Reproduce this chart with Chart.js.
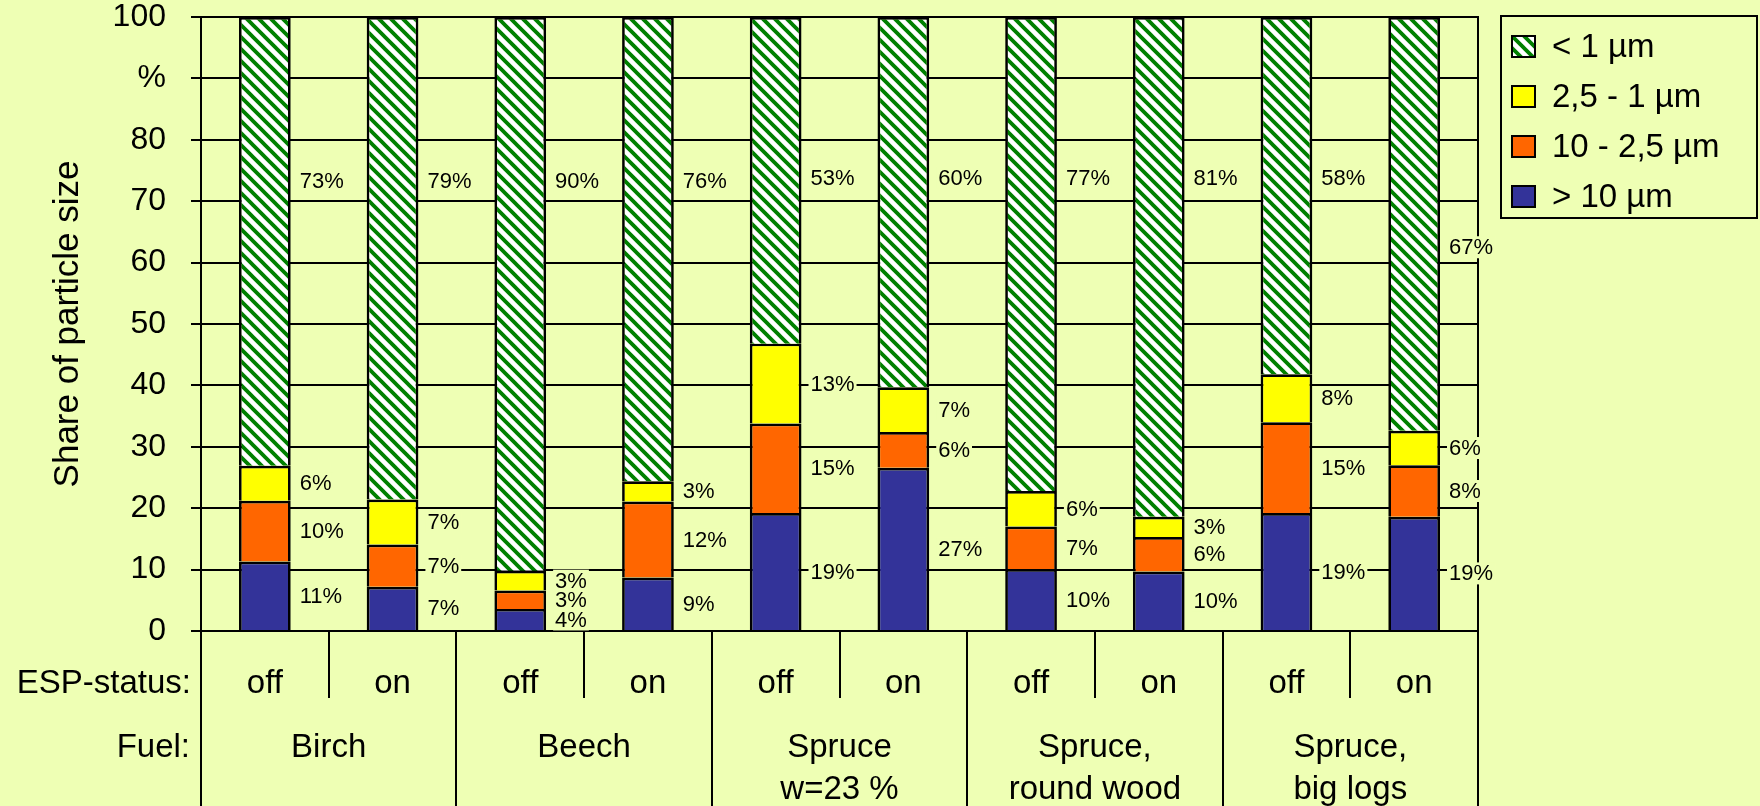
<!DOCTYPE html>
<html>
<head>
<meta charset="utf-8">
<title>Share of particle size</title>
<script src="https://cdn.jsdelivr.net/npm/chart.js@4.4.1/dist/chart.umd.min.js"></script>
<style>
	html, body { margin: 0; padding: 0; background: #eeffb4; }
	#sizeChart { display: block; background: #eeffb4; }
</style>
</head>
<body>
<canvas id="sizeChart" width="1760" height="806"></canvas>
<script>
// categories
var espStatus = ['off', 'on', 'off', 'on', 'off', 'on', 'off', 'on', 'off', 'on'];
var fuels = [['Birch'], ['Beech'], ['Spruce', 'w=23 %'], ['Spruce,', 'round wood'], ['Spruce,', 'big logs']];
var rowHeads = ['ESP-status:', 'Fuel:'];
var yTickLabels = ['0', '10', '20', '30', '40', '50', '60', '70', '80', '%', '100'];

// series (share in %)
var seriesNames = ['> 10 µm', '10 - 2,5 µm', '2,5 - 1 µm', '< 1 µm'];
var over10 = [11.3, 7.2, 3.6, 8.7, 19.2, 26.6, 10.1, 9.7, 19.2, 18.6];
var from10to25 = [9.9, 6.9, 3.0, 12.4, 14.6, 5.8, 6.9, 5.6, 14.8, 8.4];
var from25to1 = [5.7, 7.3, 3.2, 3.3, 13.0, 7.3, 5.8, 3.3, 7.8, 5.6];
var under1 = [73.1, 78.6, 90.2, 75.6, 53.2, 60.3, 77.2, 81.4, 58.2, 67.4];

// where the label of the top segment sits (axis value)
var topLabelAt = [73.3, 73.3, 73.3, 73.3, 73.8, 73.8, 73.8, 73.8, 73.8, 62.5];

var BG = '#eeffb4';
var FONT = '"Liberation Sans", Arial, sans-serif';

var canvas = document.getElementById('sizeChart');
var ctx = canvas.getContext('2d');

function stripes() {
	var s = 12;
	var c = document.createElement('canvas');
	c.width = s; c.height = s;
	var g = c.getContext('2d');
	g.fillStyle = '#ffffff';
	g.fillRect(0, 0, s, s);
	g.strokeStyle = '#008000';
	g.lineWidth = 3.8;
	g.beginPath();
	for (var k = -s; k <= s; k += s) {
		g.moveTo(k - 2, -2);
		g.lineTo(k + s + 2, s + 2);
	}
	g.stroke();
	return ctx.createPattern(c, 'repeat');
}
var greenStripes = stripes();

var fills = ['#333399', '#ff6600', '#ffff00', greenStripes];

function line(c, x1, y1, x2, y2) {
	c.beginPath();
	c.moveTo(x1, y1);
	c.lineTo(x2, y2);
	c.stroke();
}

// right frame + labels next to the bars
var barLabels = {
	id: 'barLabels',
	beforeDatasetsDraw: function(chart) {
		var c = chart.ctx, a = chart.chartArea;
		c.save();
		c.strokeStyle = '#000';
		c.lineWidth = 2;
		line(c, a.right, a.top - 1, a.right, a.bottom);
		c.restore();
	},
	afterDatasetsDraw: function(chart) {
		var c = chart.ctx, a = chart.chartArea, ys = chart.scales.y;
		c.save();
		c.strokeStyle = '#000';
		c.lineWidth = 2;
		line(c, a.left - 10, a.bottom, a.right + 1, a.bottom);
		c.font = '22px ' + FONT;
		c.textAlign = 'left';
		c.textBaseline = 'middle';
		chart.data.datasets.forEach(function(ds, d) {
			var meta = chart.getDatasetMeta(d);
			meta.data.forEach(function(bar, i) {
				var txt = Math.round(ds.data[i]) + '%';
				var x = bar.x + bar.width / 2 + 9;
				var y = (d === chart.data.datasets.length - 1) ? ys.getPixelForValue(topLabelAt[i]) : (bar.y + bar.base) / 2;
				var w = c.measureText(txt).width;
				c.fillStyle = BG;
				c.fillRect(x - 2, y - 11, w + 4, 22);
				c.fillStyle = '#000';
				c.fillText(txt, x, y + 1);
			});
		});
		c.restore();
	}
};

// ESP-status / Fuel rows under the axis and the framed legend
var tableRows = {
	id: 'tableRows',
	afterDraw: function(chart) {
		var c = chart.ctx, a = chart.chartArea;
		var n = espStatus.length, step = (a.right - a.left) / n;
		c.save();
		c.strokeStyle = '#000';
		c.lineWidth = 2;
		for (var i = 0; i <= n; i++) {
			var bx = Math.round(a.left + i * step);
			line(c, bx, a.bottom, bx, i % 2 === 0 ? chart.height : a.bottom + 67);
		}
		c.fillStyle = '#000';
		c.font = '33px ' + FONT;
		c.textBaseline = 'middle';
		c.textAlign = 'right';
		c.fillText(rowHeads[0], a.left - 10, a.bottom + 53);
		c.fillText(rowHeads[1], a.left - 11, a.bottom + 117);
		c.textAlign = 'center';
		fuels.forEach(function(lines, g) {
			var cx = a.left + (2 * g + 1) * step;
			lines.forEach(function(t, k) {
				c.fillText(t, cx, a.bottom + 117 + k * 42);
			});
		});

		// legend
		var lx = a.right + 23, ly = 16, lw = 256, lh = 202;
		c.strokeRect(lx, ly, lw, lh);
		c.textAlign = 'left';
		for (var k = 0; k < seriesNames.length; k++) {
			var d = seriesNames.length - 1 - k;
			var cy = ly + 31 + k * 50;
			c.fillStyle = fills[d];
			c.fillRect(lx + 11, cy - 11, 23, 21);
			c.strokeRect(lx + 11, cy - 11, 23, 21);
			c.fillStyle = '#000';
			c.fillText(seriesNames[d], lx + 51, cy + 1);
		}
		c.restore();
	}
};

var seriesData = [over10, from10to25, from25to1, under1];

new Chart(ctx, {
	type: 'bar',
	data: {
		labels: espStatus,
		datasets: seriesData.map(function(values, d) {
			return {
				label: seriesNames[d],
				data: values,
				backgroundColor: fills[d],
				borderColor: '#000',
				borderWidth: 2.7,
				borderSkipped: 'start',
				barPercentage: 0.405,
				categoryPercentage: 1.0
			};
		})
	},
	options: {
		responsive: false,
		animation: false,
		layout: { padding: { top: 17, right: 282, left: 0, bottom: 0 } },
		plugins: {
			legend: { display: false },
			tooltip: { enabled: false }
		},
		scales: {
			x: {
				stacked: true,
				grid: { display: false, drawTicks: false },
				border: { display: false },
				ticks: {
					color: '#000',
					font: { family: FONT, size: 33 },
					padding: 33,
					maxRotation: 0,
					minRotation: 0,
					autoSkip: false
				},
				afterFit: function(scale) { scale.height = 175; }
			},
			y: {
				stacked: true,
				min: 0,
				max: 100,
				grid: { color: '#000', lineWidth: 2, tickLength: 10, drawTicks: true },
				border: { display: true, color: '#000', width: 2 },
				ticks: {
					stepSize: 10,
					color: '#000',
					padding: 25,
					font: { family: FONT, size: 32, lineHeight: 1 },
					callback: function(value, index) { return yTickLabels[index]; }
				},
				title: {
					display: true,
					text: 'Share of particle size',
					color: '#000',
					font: { family: FONT, size: 35 },
					padding: { top: 47, bottom: 0 }
				},
				afterFit: function(scale) {
					scale.width = 201;
					scale.paddingTop = 0;
					scale.paddingBottom = 0;
				}
			}
		}
	},
	plugins: [barLabels, tableRows]
});
</script>
</body>
</html>
